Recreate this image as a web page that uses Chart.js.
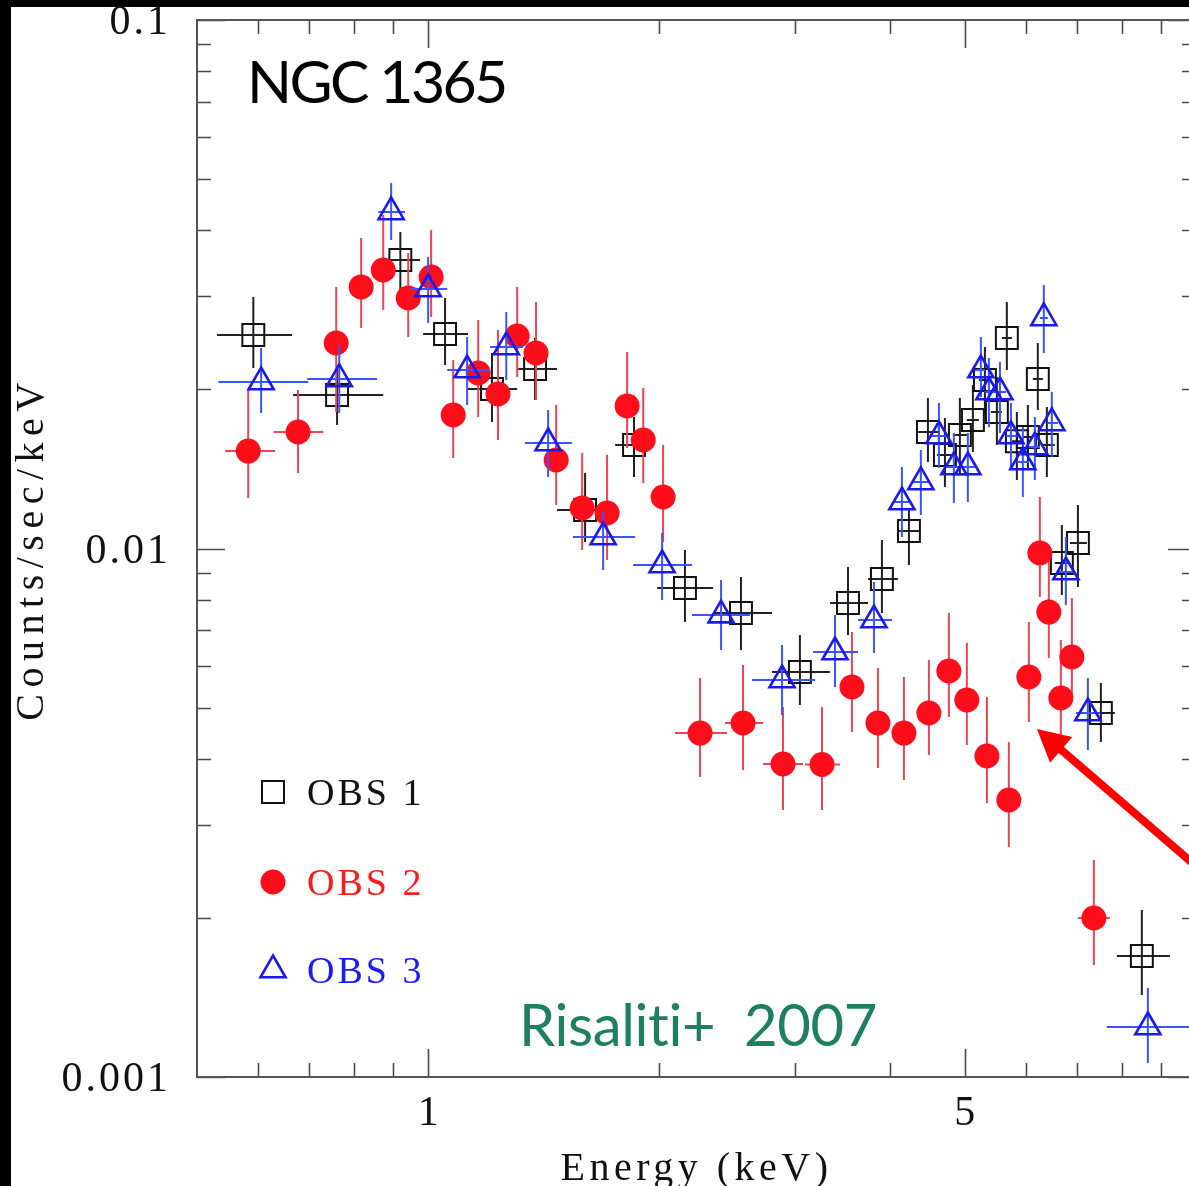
<!DOCTYPE html>
<html><head><meta charset="utf-8">
<script src="https://cdn.jsdelivr.net/npm/chart.js@4.4.1/dist/chart.umd.min.js"></script>
<style>
html,body{margin:0;padding:0;background:#fff;overflow:hidden;width:1189px;height:1186px;}
#wrap{position:absolute;left:0;top:0;width:1240px;height:1186px;}
#barL{position:absolute;left:0;top:0;width:11px;height:1186px;background:#000;}
#barT{position:absolute;left:0;top:0;width:1189px;height:7px;background:#000;}
</style></head><body>
<div id="wrap"><canvas id="c" width="1240" height="1186"></canvas></div>
<div id="barL"></div><div id="barT"></div>
<script>
// ---------- data (energy in keV, rate in counts/sec/keV) ----------
const obs1E    = [0.592,0.761,0.920,1.052,1.211,1.378,1.601,1.854,2.160,2.555,3.049,3.522,3.899,4.228,4.476,4.710,4.926,5.122,5.310,5.504,5.671,5.844,6.040,6.223,6.394,6.688,7.018,7.518,8.501];
const obs1ELo  = [0.531,0.667,0.887,0.985,1.127,1.310,1.472,1.752,1.987,2.350,2.804,3.337,3.740,4.090,4.343,4.598,4.824,5.030,5.215,5.406,5.587,5.757,5.950,6.130,6.318,6.549,6.850,7.210,7.887];
const obs1EHi  = [0.665,0.874,0.976,1.127,1.306,1.472,1.736,1.963,2.350,2.804,3.337,3.740,4.090,4.369,4.612,4.824,5.030,5.215,5.406,5.587,5.757,5.935,6.130,6.318,6.549,6.850,7.210,7.841,9.246];
const obs1R    = [0.02535,0.01952,0.03515,0.02546,0.02004,0.02186,0.01183,0.0157,0.008419,0.007548,0.005838,0.007888,0.008755,0.010792,0.016613,0.01503,0.0164,0.01751,0.020837,0.018126,0.02502,0.01596,0.016254,0.02093,0.0157,0.009388,0.010243,0.004884,0.0016942];
const obs1RLo  = [0.02195,0.01713,0.03057,0.02224,0.01735,0.0191,0.01029,0.01366,0.007258,0.006426,0.005058,0.006861,0.007548,0.009306,0.014575,0.01307,0.0139,0.015222,0.01789,0.0157,0.02176,0.013482,0.014078,0.018285,0.01366,0.008167,0.008455,0.004303,0.001429];
const obs1RHi  = [0.02991,0.02224,0.03971,0.02978,0.02344,0.02502,0.0139,0.01774,0.009935,0.008832,0.006861,0.009225,0.010377,0.01183,0.019266,0.01766,0.019266,0.020388,0.02406,0.02111,0.02927,0.018126,0.01868,0.024482,0.01852,0.011078,0.012087,0.005565,0.00207];

const obs2E    = [0.583,0.677,0.759,0.818,0.874,0.942,1.009,1.078,1.162,1.233,1.306,1.382,1.468,1.587,1.710,1.816,1.906,2.023,2.260,2.571,2.898,3.258,3.564,3.853,4.165,4.489,4.766,5.030,5.342,5.705,6.058,6.261,6.432,6.668,6.892,7.362];
const obs2ELo  = [0.544,0.629,null,null,null,null,null,null,null,null,null,null,null,null,null,null,null,null,2.097,2.436,2.730,3.095,null,null,null,null,null,null,null,null,null,null,null,null,null,7.018];
const obs2EHi  = [0.632,0.730,null,null,null,null,null,null,null,null,null,null,null,null,null,null,null,null,2.450,2.730,3.077,3.439,null,null,null,null,null,null,null,null,null,null,null,null,null,7.724];
const obs2R    = [0.015289,0.016613,0.024482,0.031257,0.033652,0.02978,0.032641,0.01789,0.021483,0.019607,0.025241,0.02344,0.014703,0.01193,0.011673,0.018608,0.016044,0.012515,0.004475,0.004675,0.003911,0.003902,0.005469,0.004675,0.004475,0.004884,0.005864,0.005169,0.004049,0.003343,0.005713,0.009806,0.007581,0.005214,0.006233,0.0019992];
const obs2RLo  = [0.01246,0.0139,0.018126,0.026136,0.028276,0.025131,0.027426,0.014832,0.01774,0.016044,0.02111,0.0191,0.012087,0.009935,0.009511,0.015497,0.0133,0.010287,0.003694,0.00381,0.003199,0.003199,0.004495,0.003843,0.003646,0.004067,0.004799,0.004247,0.003299,0.002723,0.004695,0.008095,0.006206,0.004398,0.005214,0.001629];
const obs2RHi  = [0.019948,0.019948,0.031257,0.038684,0.042764,0.036237,0.040063,0.022735,0.02707,0.025909,0.031257,0.02927,0.01868,0.015156,0.015049,0.023543,0.020123,0.0157,0.005688,0.006019,0.005013,0.005013,0.00695,0.00594,0.005713,0.006152,0.007548,0.006624,0.005237,0.004303,0.007258,0.012515,0.009637,0.006711,0.008059,0.002574];

const obs3E    = [0.606,0.766,0.895,1.000,1.124,1.264,1.433,1.690,2.017,2.407,2.890,3.387,3.807,4.140,4.382,4.626,4.838,5.045,5.246,5.374,5.555,5.741,5.950,6.168,6.336,6.490,6.769,7.231,8.656];
const obs3ELo  = [0.533,0.696,0.861,0.948,1.059,1.204,1.337,1.544,1.849,2.206,2.641,3.171,3.629,4.030,4.266,4.516,4.738,4.941,5.153,5.310,5.456,5.656,5.844,6.058,6.261,6.413,6.608,6.975,7.655];
const obs3EHi  = [0.698,0.858,0.933,1.059,1.204,1.329,1.539,1.860,2.206,2.625,3.191,3.629,4.018,4.254,4.503,4.738,4.941,5.153,5.310,5.456,5.656,5.844,6.058,6.261,6.413,6.608,6.955,7.495,10.0];
const obs3R    = [0.020655,0.02093,0.043327,0.030973,0.02176,0.02406,0.015834,0.010514,0.009306,0.007482,0.005639,0.00637,0.007322,0.012245,0.013365,0.016324,0.014263,0.014263,0.02176,0.019776,0.019776,0.016324,0.014575,0.015561,0.027307,0.017281,0.009027,0.004884,0.0012434];
const obs3RLo  = [0.018048,0.018048,0.038346,0.026714,0.01868,0.020837,0.01366,0.009106,0.00799,0.006426,0.004841,0.005469,0.006342,0.010514,0.011571,0.014201,0.012191,0.012245,0.01935,0.016983,0.016541,0.014263,0.012515,0.013482,0.02344,0.0149,0.007819,0.004156,0.0010629];
const obs3RHi  = [0.023955,0.024269,0.049158,0.035608,0.025131,0.028029,0.018285,0.011723,0.010699,0.008718,0.006567,0.007482,0.008642,0.014263,0.015356,0.018855,0.016541,0.016541,0.025131,0.022933,0.022537,0.018855,0.016983,0.01774,0.03153,0.019776,0.010514,0.005688,0.0014731];

const seriesNames = ['OBS 1','OBS 2','OBS 3'];
const xTicks      = [0.6,0.7,0.8,0.9,1,2,3,4,5,6,7,8,9];
const xTickLabels = ['','','','','1','','','','5','','','',''];
const yTicks      = [0.001,0.002,0.003,0.004,0.005,0.006,0.007,0.008,0.009,0.01,0.02,0.03,0.04,0.05,0.06,0.07,0.08,0.09,0.1];
const yTickLabels = ['0.001','','','','','','','','','0.01','','','','','','','','','0.1'];
const xTitle = 'Energy (keV)';
const yTitle = 'Counts/sec/keV';
const objectLabel = 'NGC 1365';
const refLabel = 'Risaliti+  2007';
// arrow annotation, in data coordinates (tip, tail)
const arrowTip  = [6.206, 0.004555];
const arrowTail = [12.11, 0.001973];

// ---------- build ----------
function pts(E, ELo, EHi, R, RLo, RHi){
  return E.map((e,i)=>({x:e, y:R[i], xlo:ELo[i], xhi:EHi[i], ylo:RLo[i], yhi:RHi[i]}));
}
const SERIF = '"Liberation Serif","DejaVu Serif",serif';

const errorBars = {
  id:'errorBars',
  beforeDatasetDraw(chart, args){
    const ds = chart.data.datasets[args.index];
    const xs = chart.scales.x, ys = chart.scales.y, ctx = chart.ctx, a = chart.chartArea;
    ctx.save();
    ctx.beginPath(); ctx.rect(a.left, a.top, a.right-a.left, a.bottom-a.top); ctx.clip();
    ctx.strokeStyle = ds.errColor; ctx.lineWidth = 2;
    ctx.beginPath();
    ds.data.forEach(p=>{
      const x = xs.getPixelForValue(p.x), y = ys.getPixelForValue(p.y);
      if (p.xlo != null && p.xhi != null){ ctx.moveTo(xs.getPixelForValue(p.xlo), y); ctx.lineTo(xs.getPixelForValue(p.xhi), y); }
      if (p.ylo != null && p.yhi != null){ ctx.moveTo(x, ys.getPixelForValue(p.ylo)); ctx.lineTo(x, ys.getPixelForValue(p.yhi)); }
    });
    ctx.stroke();
    ctx.restore();
  }
};

function setSpacing(ctx, s){ if ('letterSpacing' in ctx) ctx.letterSpacing = s; }

const frame = {
  id:'frame',
  afterDraw(chart){
    const ctx = chart.ctx, a = chart.chartArea, xs = chart.scales.x, ys = chart.scales.y;
    ctx.save();
    // ticks (inward on all four sides)
    ctx.strokeStyle = '#4a4a4a'; ctx.lineWidth = 1.6;
    ctx.beginPath();
    xTicks.forEach((v,i)=>{
      const x = Math.round(xs.getPixelForValue(v)) + 0.5;
      const L = xTickLabels[i] ? 28 : 14;
      ctx.moveTo(x, a.bottom); ctx.lineTo(x, a.bottom - L);
      ctx.moveTo(x, a.top); ctx.lineTo(x, a.top + L);
    });
    yTicks.forEach((v,i)=>{
      const y = Math.round(ys.getPixelForValue(v)) + 0.5;
      const L = yTickLabels[i] ? 28 : 14;
      ctx.moveTo(a.left, y); ctx.lineTo(a.left + L, y);
      ctx.moveTo(a.right, y); ctx.lineTo(a.right - L, y);
    });
    ctx.stroke();
    ctx.strokeStyle = '#555'; ctx.lineWidth = 2;
    ctx.strokeRect(a.left, a.top, a.right-a.left, a.bottom-a.top);

    // tick labels
    ctx.fillStyle = '#111';
    ctx.font = '42px ' + SERIF;
    setSpacing(ctx, '3px');
    ctx.textAlign = 'right'; ctx.textBaseline = 'alphabetic';
    yTicks.forEach((v,i)=>{
      if (!yTickLabels[i]) return;
      ctx.fillText(yTickLabels[i], a.left - 26, ys.getPixelForValue(v) + 14);
    });
    ctx.textAlign = 'center';
    xTicks.forEach((v,i)=>{
      if (!xTickLabels[i]) return;
      ctx.fillText(xTickLabels[i], xs.getPixelForValue(v) + 1.5, a.bottom + 48);
    });
    // axis titles
    ctx.font = '40px ' + SERIF;
    setSpacing(ctx, '4.5px');
    ctx.fillText(xTitle, (a.left + 1196) / 2 + 0, a.bottom + 103);
    ctx.save();
    ctx.translate(43, (a.top + a.bottom)/2);
    ctx.rotate(-Math.PI/2);
    setSpacing(ctx, '6.5px');
    ctx.fillText(yTitle, 0, 0);
    ctx.restore();

    // legend
    const lx = a.left + 76, lys = [792, 882, 970];
    const cols = ['#111', '#ff1a1a', '#1a1aff'];
    ctx.strokeStyle = '#111'; ctx.lineWidth = 2;
    ctx.strokeRect(lx - 11, lys[0] - 11, 22, 22);
    ctx.fillStyle = '#ff0d1a';
    ctx.beginPath(); ctx.arc(lx, lys[1], 12.5, 0, Math.PI*2); ctx.fill();
    ctx.strokeStyle = '#1a1aee'; ctx.lineWidth = 2.6;
    const r = 14.5;
    ctx.beginPath();
    ctx.moveTo(lx, lys[2] - r);
    ctx.lineTo(lx + 0.866*r, lys[2] + 0.5*r);
    ctx.lineTo(lx - 0.866*r, lys[2] + 0.5*r);
    ctx.closePath(); ctx.stroke();
    ctx.font = '38px ' + SERIF;
    setSpacing(ctx, '3px');
    ctx.textAlign = 'left';
    seriesNames.forEach((n,i)=>{
      ctx.fillStyle = cols[i];
      ctx.fillText(n, lx + 34, lys[i] + 13);
    });

    // annotations
    ctx.fillStyle = '#000';
    ctx.font = '59px Lato, "Open Sans", sans-serif';
    setSpacing(ctx, '-2.6px');
    ctx.fillText(objectLabel, a.left + 50, a.top + 83);
    ctx.fillStyle = '#1e8063';
    ctx.font = '58px Lato, "Open Sans", sans-serif';
    setSpacing(ctx, '-0.4px');
    ctx.fillText(refLabel, a.left + 322, a.bottom - 31);
    setSpacing(ctx, '0px');

    // arrow
    const tx = xs.getPixelForValue(arrowTip[0]), ty = ys.getPixelForValue(arrowTip[1]);
    const sx = xs.getPixelForValue(arrowTail[0]), sy = ys.getPixelForValue(arrowTail[1]);
    const ang = Math.atan2(sy - ty, sx - tx);
    const hl = 32, hw = 17;
    const bx = tx + Math.cos(ang)*hl, by = ty + Math.sin(ang)*hl;
    ctx.strokeStyle = '#ff0000'; ctx.fillStyle = '#ff0000'; ctx.lineWidth = 8;
    ctx.beginPath(); ctx.moveTo(sx, sy); ctx.lineTo(bx - Math.cos(ang)*2, by - Math.sin(ang)*2); ctx.stroke();
    ctx.beginPath();
    ctx.moveTo(tx, ty);
    ctx.lineTo(bx + Math.sin(ang)*hw, by - Math.cos(ang)*hw);
    ctx.lineTo(bx - Math.sin(ang)*hw, by + Math.cos(ang)*hw);
    ctx.closePath(); ctx.fill();
    ctx.restore();
  }
};

new Chart(document.getElementById('c'), {
  type: 'scatter',
  data: {
    datasets: [
      { label: seriesNames[0], data: pts(obs1E,obs1ELo,obs1EHi,obs1R,obs1RLo,obs1RHi),
        pointStyle:'rect', pointRadius:15.5, pointBorderWidth:2, pointBorderColor:'#111', pointBackgroundColor:'rgba(0,0,0,0)',
        errColor:'#222', order:2 },
      { label: seriesNames[1], data: pts(obs2E,obs2ELo,obs2EHi,obs2R,obs2RLo,obs2RHi),
        pointStyle:'circle', pointRadius:12.5, pointBorderWidth:0, pointBorderColor:'#ff0d1a', pointBackgroundColor:'#ff0d1a',
        errColor:'#ea4656', order:1 },
      { label: seriesNames[2], data: pts(obs3E,obs3ELo,obs3EHi,obs3R,obs3RLo,obs3RHi),
        pointStyle:'triangle', pointRadius:14.5, pointBorderWidth:2.6, pointBorderColor:'#1a1aee', pointBackgroundColor:'rgba(0,0,0,0)',
        errColor:'#3a55ff', order:0 }
    ]
  },
  options: {
    responsive:false, maintainAspectRatio:false, animation:false, devicePixelRatio:1,
    layout:{ padding:{ left:197, top:20, right:44, bottom:109 } },
    plugins:{ legend:{display:false}, tooltip:{enabled:false}, title:{display:false} },
    events: [],
    scales:{
      x:{ type:'logarithmic', min:0.5, max:10, display:false },
      y:{ type:'logarithmic', min:0.001, max:0.1, display:false }
    }
  },
  plugins:[errorBars, frame]
});
</script>
</body></html>
